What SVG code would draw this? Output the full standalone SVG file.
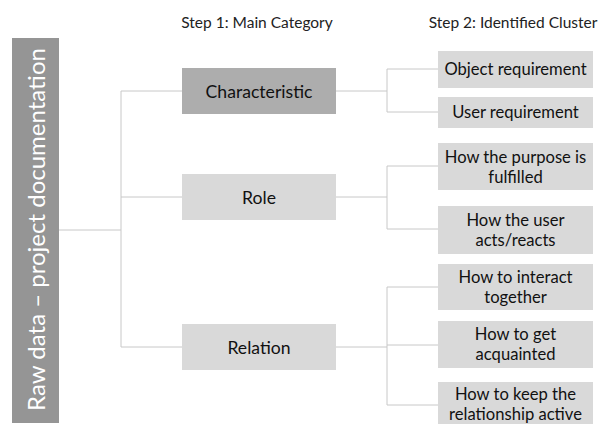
<svg xmlns="http://www.w3.org/2000/svg" width="600" height="424" viewBox="0 0 600 424">
<style>
text{font-family:Lato,"Open Sans","Liberation Sans",sans-serif;text-anchor:middle;dominant-baseline:central;fill:#111}
.hdr{font-size:15.5px;fill:#222}
.box{fill:#d9d9d9}
.dark{fill:#adadad}
.lbl{font-size:17.6px}
.cl{font-size:16.6px}
.con{fill:none;stroke:#c8c8c8;stroke-width:1}
</style>
<rect width="600" height="424" fill="#fff"/>
<text class="hdr" x="257" y="22">Step 1: Main Category</text>
<text class="hdr" x="513" y="22">Step 2: Identified Cluster</text>
<g id="connectors">
<path class="con" d="M59 230H121M121 91V347M121 91H182M121 197H182M121 347H182"/>
<path class="con" d="M336 91H387M387 69V112M387 69H438M387 112H438"/>
<path class="con" d="M336 197H387M387 166V229M387 166H438M387 229H438"/>
<path class="con" d="M336 347H387M387 287V405M387 287H438M387 345H438M387 405H438"/>
</g>
<g id="raw">
<rect x="12" y="38" width="47" height="385" fill="#959595"/>
<text transform="translate(35.5 229.5) rotate(-90)" style="font-size:24px;fill:#fff">Raw data – project documentation</text>
</g>
<g id="characteristic"><rect class="dark" x="182" y="68" width="154" height="46"/><text class="lbl" x="259" y="91">Characteristic</text></g>
<g id="role"><rect class="box" x="182" y="174" width="154" height="46"/><text class="lbl" x="259" y="197">Role</text></g>
<g id="relation"><rect class="box" x="182" y="324" width="154" height="46"/><text class="lbl" x="259" y="347">Relation</text></g>
<g id="object"><rect class="box" x="438" y="51" width="155" height="37"/><text class="cl" x="515.5" y="69">Object requirement</text></g>
<g id="user"><rect class="box" x="438" y="97" width="155" height="31"/><text class="cl" x="515.5" y="112">User requirement</text></g>
<g id="purpose"><rect class="box" x="438" y="143" width="155" height="47"/><text class="cl" x="515.5" y="157">How the purpose is</text><text class="cl" x="515.5" y="177">fulfilled</text></g>
<g id="acts"><rect class="box" x="438" y="206" width="155" height="48"/><text class="cl" x="515.5" y="220">How the user</text><text class="cl" x="515.5" y="240">acts/reacts</text></g>
<g id="interact"><rect class="box" x="438" y="264" width="155" height="46"/><text class="cl" x="515.5" y="277">How to interact</text><text class="cl" x="515.5" y="297">together</text></g>
<g id="acquainted"><rect class="box" x="438" y="321" width="155" height="47"/><text class="cl" x="515.5" y="334">How to get</text><text class="cl" x="515.5" y="354">acquainted</text></g>
<g id="keep"><rect class="box" x="438" y="382" width="155" height="42"/><text class="cl" x="515.5" y="394">How to keep the</text><text class="cl" x="515.5" y="414">relationship active</text></g>
</svg>
